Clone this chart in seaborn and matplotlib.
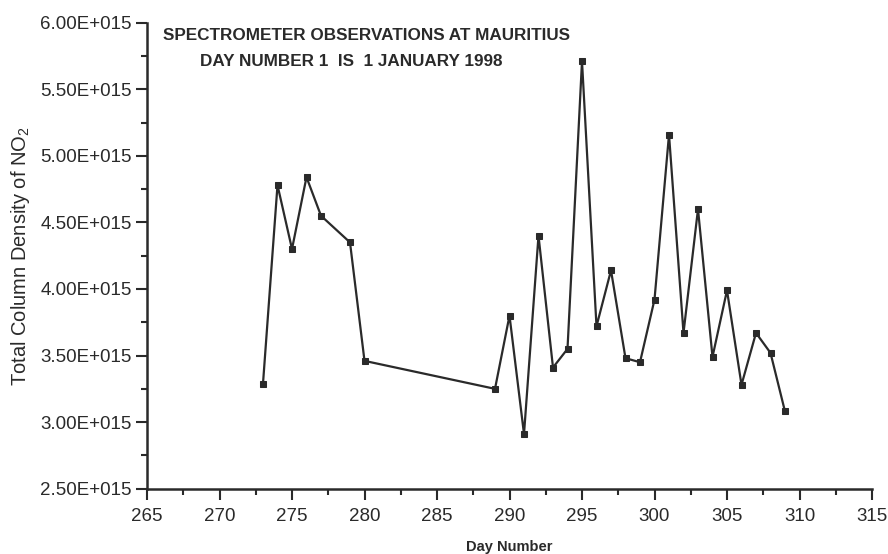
import matplotlib
matplotlib.use("Agg")
import matplotlib.pyplot as plt
import seaborn as sns
import pandas as pd
from matplotlib.ticker import MultipleLocator, FuncFormatter

days = [273, 274, 275, 276, 277, 279, 280, 289, 290, 291, 292, 293, 294, 295,
        296, 297, 298, 299, 300, 301, 302, 303, 304, 305, 306, 307, 308, 309]
no2 = [3.29, 4.78, 4.30, 4.84, 4.55, 4.35, 3.46, 3.25, 3.80, 2.91, 4.40, 3.41,
       3.55, 5.71, 3.72, 4.14, 3.48, 3.45, 3.92, 5.16, 3.67, 4.60, 3.49, 3.99,
       3.28, 3.67, 3.52, 3.08]  # x 1e15
no2 = [v * 1e15 for v in no2]

title1 = "SPECTROMETER OBSERVATIONS AT MAURITIUS"
title2 = "DAY NUMBER 1  IS  1 JANUARY 1998"
xlabel = "Day Number"
ylabel = "Total Column Density of NO$_2$"

df = pd.DataFrame({"day": days, "no2": no2})

sns.set_style("ticks")
plt.rcParams["font.family"] = ["Liberation Sans", "DejaVu Sans"]
plt.rcParams["mathtext.fontset"] = "custom"
plt.rcParams["mathtext.rm"] = "Liberation Sans"
plt.rcParams["mathtext.it"] = "Liberation Sans"

ink = "#2a2a2a"
fig = plt.figure(figsize=(8.88, 5.54), dpi=100)
ax = fig.add_axes([147/888, 1-488.7/554, (872-147)/888, (488.7-22.7)/554])

sns.lineplot(data=df, x="day", y="no2", ax=ax, color=ink, linewidth=1.6,
             marker="s", markersize=4.5, markeredgecolor=ink, markerfacecolor=ink)

ax.set_xlim(265, 315)
ax.set_ylim(2.5e15, 6.0e15)
ax.xaxis.set_major_locator(MultipleLocator(5))
ax.xaxis.set_minor_locator(MultipleLocator(2.5))
ax.yaxis.set_major_locator(MultipleLocator(0.5e15))
ax.yaxis.set_minor_locator(MultipleLocator(0.25e15))

def yfmt(v, pos):
    return f"{v/1e15:.2f}E+015"
ax.yaxis.set_major_formatter(FuncFormatter(yfmt))

for s in ["top", "right"]:
    ax.spines[s].set_visible(False)
for s in ["left", "bottom"]:
    ax.spines[s].set_linewidth(1.8)
    ax.spines[s].set_color(ink)

ax.tick_params(axis="both", which="major", direction="out", length=8, width=1.5,
               colors=ink, labelsize=13.5, labelcolor=ink)
ax.tick_params(axis="both", which="minor", direction="out", length=4, width=1.5, colors=ink)
ax.tick_params(axis="x", which="major", pad=6)
ax.tick_params(axis="y", which="major", pad=3)

ax.set_xlabel(xlabel, fontsize=10.5, fontweight="bold", color=ink)
ax.xaxis.label.set_verticalalignment("center")
ax.xaxis.set_label_coords(0.5, (488.7 - 547.5) / 466)
ax.set_ylabel(ylabel, fontsize=14.5, color=ink)
ax.yaxis.label.set_verticalalignment("center")
ax.yaxis.set_label_coords((21 - 147) / 725, 0.5)

fig.text(163/888, 1-35/554, title1, fontsize=12.3, fontweight="bold", color=ink,
         ha="left", va="center")
fig.text(200/888, 1-61/554, title2, fontsize=12.3, fontweight="bold", color=ink,
         ha="left", va="center")

fig.savefig("out.png", dpi=100)
